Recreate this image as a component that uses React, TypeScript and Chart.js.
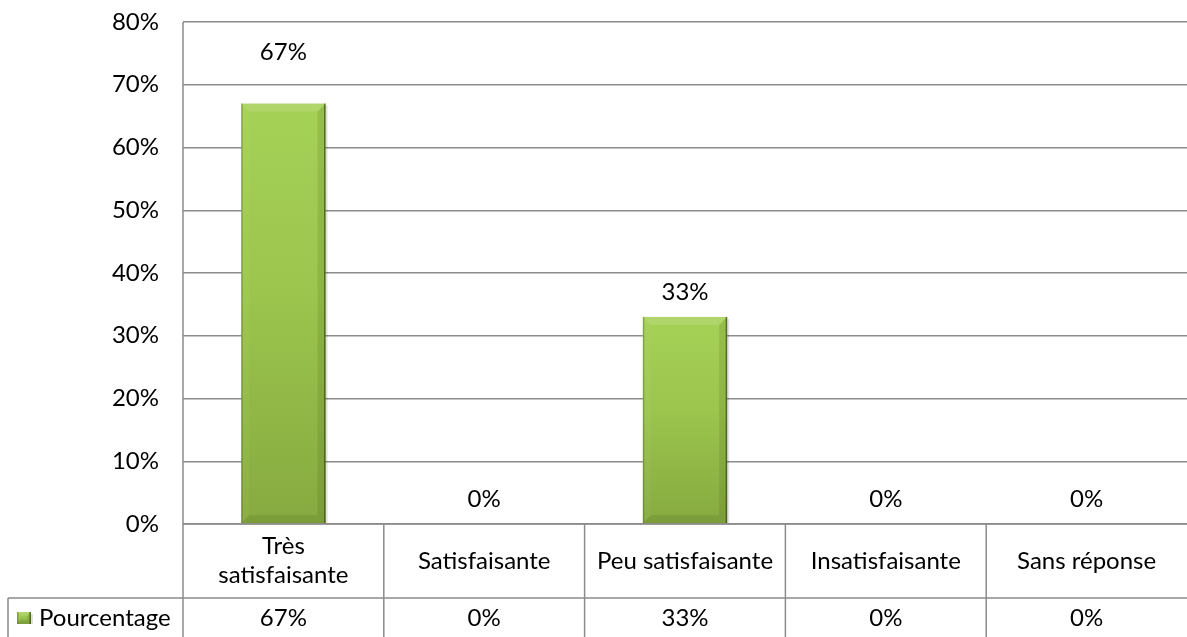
import React, { useEffect, useRef } from "react";
import { Chart, registerables } from "chart.js";

Chart.register(...registerables);

// ---- data ----
const categories: string[][] = [
  ["Très", "satisfaisante"],
  ["Satisfaisante"],
  ["Peu satisfaisante"],
  ["Insatisfaisante"],
  ["Sans réponse"],
];
const seriesName = "Pourcentage";
const values = [67, 0, 33, 0, 0];
const yMin = 0;
const yMax = 80;
const yStep = 10;

// ---- styles ----
const FONT = "Lato, 'Open Sans', sans-serif";
const FONT_SIZE = 24;
const LINE = "#8c8c8c";
const labelLift = [51, 25, 25, 25, 25];

function paintBar(ctx: CanvasRenderingContext2D, l: number, t: number, w: number, h: number) {
  if (h <= 0.5) return;
  ctx.save();
  ctx.fillStyle = "rgba(0,0,0,0.12)";
  ctx.fillRect(l + w, t + 2, 2, h - 2);
  const g = ctx.createLinearGradient(0, t, 0, t + h);
  g.addColorStop(0, "#a6d157");
  g.addColorStop(0.45, "#9bc54d");
  g.addColorStop(1, "#87aa40");
  ctx.fillStyle = g;
  ctx.fillRect(l, t, w, h);
  const b = Math.min(8, h / 3, w / 3);
  ctx.fillStyle = "rgba(255,255,255,0.12)";
  ctx.beginPath();
  ctx.moveTo(l, t);
  ctx.lineTo(l + w, t);
  ctx.lineTo(l + w - b, t + b);
  ctx.lineTo(l + b, t + b);
  ctx.closePath();
  ctx.fill();
  ctx.fillStyle = "rgba(255,255,255,0.04)";
  ctx.beginPath();
  ctx.moveTo(l, t);
  ctx.lineTo(l + b, t + b);
  ctx.lineTo(l + b, t + h - b);
  ctx.lineTo(l, t + h);
  ctx.closePath();
  ctx.fill();
  ctx.fillStyle = "rgba(40,60,10,0.12)";
  ctx.beginPath();
  ctx.moveTo(l + w, t);
  ctx.lineTo(l + w - b, t + b);
  ctx.lineTo(l + w - b, t + h - b);
  ctx.lineTo(l + w, t + h);
  ctx.closePath();
  ctx.fill();
  ctx.fillStyle = "rgba(40,60,10,0.12)";
  ctx.beginPath();
  ctx.moveTo(l, t + h);
  ctx.lineTo(l + b, t + h - b);
  ctx.lineTo(l + w - b, t + h - b);
  ctx.lineTo(l + w, t + h);
  ctx.closePath();
  ctx.fill();
  ctx.fillStyle = "rgba(50,70,15,0.3)";
  ctx.fillRect(l, t, 1.5, h);
  ctx.fillStyle = "rgba(40,55,10,0.6)";
  ctx.fillRect(l + w - 1.5, t, 1.5, h);
  ctx.restore();
}

const barPainter = {
  id: "barPainter",
  afterDatasetsDraw(chart: any) {
    const ctx = chart.ctx as CanvasRenderingContext2D;
    const meta = chart.getDatasetMeta(0);
    meta.data.forEach((el: any, i: number) => {
      const w = el.width;
      const l = el.x - w / 2;
      const t = Math.min(el.y, el.base);
      const h = Math.abs(el.base - el.y);
      paintBar(ctx, l, t, w, h);
      ctx.save();
      ctx.fillStyle = "#000";
      ctx.font = `${FONT_SIZE}px ${FONT}`;
      ctx.textAlign = "center";
      ctx.textBaseline = "middle";
      ctx.fillText(values[i] + "%", el.x, el.y - labelLift[i]);
      ctx.restore();
    });
  },
};

const tablePlugin = {
  id: "dataTable",
  afterDraw(chart: any) {
    const ctx = chart.ctx as CanvasRenderingContext2D;
    const x = chart.scales.x;
    const area = chart.chartArea;
    const H = chart.height;
    const W = chart.width;
    const row1Top = area.bottom;
    const row2Top = area.bottom + 74;
    const tableLeft = 8;
    ctx.save();
    ctx.strokeStyle = LINE;
    ctx.lineWidth = 1.5;
    ctx.beginPath();
    ctx.moveTo(area.left, area.top);
    ctx.lineTo(area.left, H);
    ctx.moveTo(area.left, row1Top);
    ctx.lineTo(W, row1Top);
    ctx.moveTo(tableLeft, row2Top);
    ctx.lineTo(W, row2Top);
    ctx.moveTo(tableLeft, row2Top);
    ctx.lineTo(tableLeft, H);
    for (let i = 1; i < categories.length; i++) {
      const px = x.getPixelForValue(i - 0.5);
      ctx.moveTo(px, row1Top);
      ctx.lineTo(px, H);
    }
    ctx.stroke();

    ctx.fillStyle = "#000";
    ctx.font = `${FONT_SIZE}px ${FONT}`;
    ctx.textAlign = "center";
    ctx.textBaseline = "middle";
    const lh = 29;
    categories.forEach((lines, i) => {
      const cx = x.getPixelForValue(i);
      const cy = (row1Top + row2Top) / 2;
      lines.forEach((s, k) => {
        ctx.fillText(s, cx, cy + (k - (lines.length - 1) / 2) * lh);
      });
      ctx.fillText(values[i] + "%", cx, row2Top + 20);
    });
    const ky = row2Top + 20;
    paintBar(ctx, 17, ky - 6, 14, 12);
    ctx.textAlign = "left";
    ctx.fillText(seriesName, 39, ky);
    ctx.restore();
  },
};

export default function App() {
  const ref = useRef<HTMLCanvasElement | null>(null);
  useEffect(() => {
    document.body.style.margin = "0";
    const canvas = ref.current!;
    const chart = new Chart(canvas, {
      type: "bar",
      data: {
        labels: categories.map((c) => c.join(" ")),
        datasets: [
          {
            label: seriesName,
            data: values,
            backgroundColor: "rgba(0,0,0,0)",
            borderWidth: 0,
            categoryPercentage: 0.84,
            barPercentage: 0.5,
          },
        ],
      },
      options: {
        responsive: false,
        animation: false,
        devicePixelRatio: 1,
        layout: { padding: { top: 22, right: 0, bottom: 0, left: 0 } },
        plugins: { legend: { display: false }, tooltip: { enabled: false } },
        scales: {
          x: {
            grid: { display: false },
            border: { display: false },
            ticks: { display: false },
            afterFit: (s: any) => {
              s.height = 113;
              s.paddingLeft = 0;
              s.paddingRight = 0;
            },
          },
          y: {
            min: yMin,
            max: yMax,
            ticks: {
              stepSize: yStep,
              callback: (v: any) => v + "%",
              color: "#000",
              font: { family: FONT, size: FONT_SIZE },
              padding: 24,
            },
            grid: { color: LINE, lineWidth: 1.5, drawTicks: false },
            border: { display: false },
            afterFit: (s: any) => {
              s.width = 183;
              s.paddingTop = 0;
              s.paddingBottom = 0;
            },
          },
        },
      },
      plugins: [barPainter, tablePlugin],
    });
    return () => chart.destroy();
  }, []);
  return (
    <div style={{ position: "absolute", left: 0, top: 0, width: 1187, height: 637, background: "#fff" }}>
      <canvas ref={ref} width={1187} height={637} />
    </div>
  );
}
